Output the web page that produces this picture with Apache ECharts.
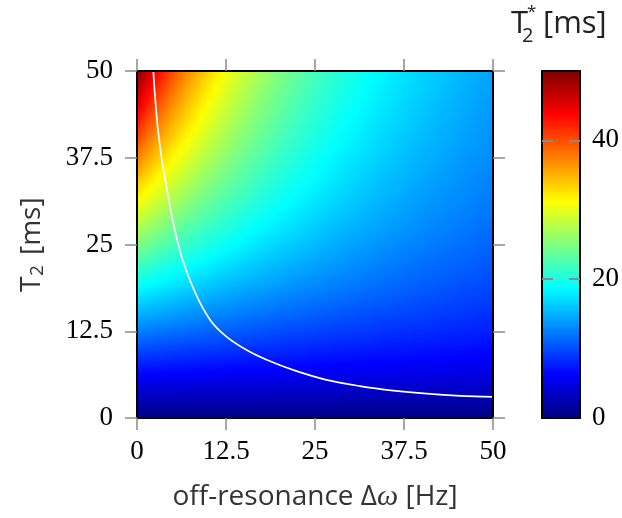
<!DOCTYPE html>
<html><head><meta charset="utf-8">
<script src="https://cdn.jsdelivr.net/npm/echarts@6/dist/echarts.min.js"></script>
<style>html,body{margin:0;padding:0;background:#fff}#c{width:622px;height:518px}</style>
</head><body><div id="c"></div>
<script>
// Grid nodes (off-resonance in Hz, T2 in ms)
const dOmega = [1,3,5,7,9,11,13,15,17,19,21,23,25,27,29,31,33,35,37,39,41,43,45,47,49];
const t2 = [1,3,5,7,9,11,13,15,17,19,21,23,25,27,29,31,33,35,37,39,41,43,45,47,49];
// T2* values [ms]; one row per T2, columns follow dOmega
const t2star = [
 [1.0,1.0,1.0,1.0,1.0,1.0,1.0,1.0,1.0,1.0,1.0,1.0,1.0,1.0,1.0,1.0,1.0,1.0,1.0,1.0,1.0,1.0,1.0,1.0,1.0],
 [3.0,3.0,3.0,2.9,2.9,2.9,2.9,2.9,2.9,2.8,2.8,2.8,2.8,2.8,2.8,2.7,2.7,2.7,2.7,2.7,2.7,2.7,2.6,2.6,2.6],
 [5.0,4.9,4.9,4.8,4.8,4.7,4.7,4.7,4.6,4.6,4.5,4.5,4.4,4.4,4.4,4.3,4.3,4.3,4.2,4.2,4.1,4.1,4.1,4.0,4.0],
 [7.0,6.9,6.8,6.7,6.6,6.5,6.4,6.3,6.3,6.2,6.1,6.0,6.0,5.9,5.8,5.8,5.7,5.6,5.6,5.5,5.4,5.4,5.3,5.3,5.2],
 [8.9,8.8,8.6,8.5,8.3,8.2,8.1,7.9,7.8,7.7,7.6,7.5,7.3,7.2,7.1,7.0,6.9,6.8,6.8,6.7,6.6,6.5,6.4,6.3,6.2],
 [10.9,10.6,10.4,10.2,10.0,9.8,9.6,9.4,9.3,9.1,8.9,8.8,8.6,8.5,8.3,8.2,8.1,7.9,7.8,7.7,7.6,7.5,7.4,7.3,7.1],
 [12.8,12.5,12.2,11.9,11.6,11.4,11.1,10.9,10.6,10.4,10.2,10.0,9.8,9.6,9.4,9.3,9.1,8.9,8.8,8.6,8.5,8.3,8.2,8.1,7.9],
 [14.8,14.4,14.0,13.6,13.2,12.9,12.6,12.2,12.0,11.7,11.4,11.2,10.9,10.7,10.5,10.2,10.0,9.8,9.6,9.5,9.3,9.1,9.0,8.8,8.6],
 [16.7,16.2,15.7,15.2,14.7,14.3,13.9,13.5,13.2,12.8,12.5,12.2,11.9,11.7,11.4,11.1,10.9,10.7,10.4,10.2,10.0,9.8,9.6,9.4,9.3],
 [18.6,18.0,17.4,16.8,16.2,15.7,15.2,14.8,14.4,14.0,13.6,13.2,12.9,12.6,12.3,12.0,11.7,11.4,11.2,10.9,10.7,10.5,10.2,10.0,9.8],
 [20.6,19.8,19.0,18.3,17.7,17.1,16.5,16.0,15.5,15.0,14.6,14.2,13.8,13.4,13.1,12.7,12.4,12.1,11.8,11.5,11.3,11.0,10.8,10.6,10.3],
 [22.5,21.5,20.6,19.8,19.1,18.4,17.7,17.1,16.5,16.0,15.5,15.0,14.6,14.2,13.8,13.4,13.1,12.7,12.4,12.1,11.8,11.6,11.3,11.1,10.8],
 [24.4,23.3,22.2,21.3,20.4,19.6,18.9,18.2,17.5,16.9,16.4,15.9,15.4,14.9,14.5,14.1,13.7,13.3,13.0,12.7,12.3,12.0,11.8,11.5,11.2],
 [26.3,25.0,23.8,22.7,21.7,20.8,20.0,19.2,18.5,17.8,17.2,16.7,16.1,15.6,15.1,14.7,14.3,13.9,13.5,13.2,12.8,12.5,12.2,11.9,11.6],
 [28.2,26.7,25.3,24.1,23.0,22.0,21.1,20.2,19.4,18.7,18.0,17.4,16.8,16.3,15.8,15.3,14.8,14.4,14.0,13.6,13.2,12.9,12.6,12.3,12.0],
 [30.1,28.4,26.8,25.5,24.2,23.1,22.1,21.2,20.3,19.5,18.8,18.1,17.5,16.9,16.3,15.8,15.3,14.9,14.4,14.0,13.7,13.3,12.9,12.6,12.3],
 [31.9,30.0,28.3,26.8,25.4,24.2,23.1,22.1,21.1,20.3,19.5,18.8,18.1,17.5,16.9,16.3,15.8,15.3,14.9,14.4,14.0,13.6,13.3,12.9,12.6],
 [33.8,31.7,29.8,28.1,26.6,25.3,24.1,23.0,21.9,21.0,20.2,19.4,18.7,18.0,17.4,16.8,16.2,15.7,15.3,14.8,14.4,14.0,13.6,13.2,12.9],
 [35.7,33.3,31.2,29.4,27.8,26.3,25.0,23.8,22.7,21.7,20.8,20.0,19.2,18.5,17.8,17.2,16.7,16.1,15.6,15.1,14.7,14.3,13.9,13.5,13.2],
 [37.5,34.9,32.6,30.6,28.9,27.3,25.9,24.6,23.5,22.4,21.4,20.6,19.7,19.0,18.3,17.7,17.1,16.5,16.0,15.5,15.0,14.6,14.2,13.8,13.4],
 [39.4,36.5,34.0,31.9,29.9,28.3,26.7,25.4,24.2,23.0,22.0,21.1,20.2,19.5,18.7,18.1,17.4,16.8,16.3,15.8,15.3,14.8,14.4,14.0,13.6],
 [41.2,38.1,35.4,33.1,31.0,29.2,27.6,26.1,24.8,23.7,22.6,21.6,20.7,19.9,19.1,18.4,17.8,17.2,16.6,16.1,15.6,15.1,14.7,14.2,13.8],
 [43.1,39.6,36.7,34.2,32.0,30.1,28.4,26.9,25.5,24.3,23.1,22.1,21.2,20.3,19.5,18.8,18.1,17.5,16.9,16.3,15.8,15.3,14.9,14.4,14.0],
 [44.9,41.2,38.1,35.4,33.0,31.0,29.2,27.6,26.1,24.8,23.7,22.6,21.6,20.7,19.9,19.1,18.4,17.8,17.2,16.6,16.1,15.6,15.1,14.6,14.2],
 [46.7,42.7,39.4,36.5,34.0,31.8,29.9,28.2,26.7,25.4,24.1,23.0,22.0,21.1,20.2,19.5,18.7,18.0,17.4,16.8,16.3,15.8,15.3,14.8,14.4]
];
// Values along the plot edges
const edgeAtZeroHz = [1,3,5,7,9,11,13,15,17,19,21,23,25,27,29,31,33,35,37,39,41,43,45,47,49];
const edgeAt50Hz = [0.95,2.61,4.0,5.19,6.21,7.10,7.88,8.57,9.19,9.74,10.24,10.70,11.11,11.49,11.84,12.16,12.45,12.73,12.98,13.22,13.44,13.65,13.85,14.03,14.2];
const edgeAtT2of50 = [50,47.6,43.5,40.0,37.0,34.5,32.3,30.3,28.6,27.0,25.6,24.4,23.3,22.2,21.3,20.4,19.6,18.9,18.2,17.5,16.9,16.4,15.9,15.4,14.9,14.5,14.3];
const edgeAtT2of0 = [0,0,0,0,0,0,0,0,0,0,0,0,0,0,0,0,0,0,0,0,0,0,0,0,0,0,0];
const axisMin = 0, axisMax = 50;
// White curve
const curveDOmega = [2.3,2.5,2.9,3.5,4.3,5.2,6.4,8.2,10.3,12.6,15.4,18.2,22.0,26.6,31.3,36.0,40.7,45.4,50.0];
const curveT2     = [49.9,46.8,42.0,37.2,32.4,27.6,22.8,18.0,14.1,11.7,9.8,8.4,6.9,5.5,4.6,3.95,3.5,3.2,3.05];
// Tick values
const axisTicks = [0, 12.5, 25, 37.5, 50];
const colorbarTicks = [0, 20, 40];
const jet = ['#000080','#0000ff','#0080ff','#00ffff','#80ff80','#ffff00','#ff8000','#ff0000','#800000'];

// full node table (rows: T2 from 0 to 50, columns: dOmega from 0 to 50)
const xNodes = [axisMin].concat(dOmega, [axisMax]);
const yNodes = [axisMin].concat(t2, [axisMax]);
const table = [edgeAtT2of0];
t2star.forEach((row, i) => table.push([edgeAtZeroHz[i]].concat(row, [edgeAt50Hz[i]])));
table.push(edgeAtT2of50);

const jetRGB = jet.map(h => [1,3,5].map(p => parseInt(h.substr(p,2),16)));
function colorOf(v) {
  const t = Math.max(0, Math.min(1, v / axisMax)) * (jetRGB.length - 1);
  const i = Math.min(Math.floor(t), jetRGB.length - 2);
  const f = t - i, a = jetRGB[i], b = jetRGB[i+1];
  return 'rgb(' + [0,1,2].map(k => Math.round(a[k] + (b[k]-a[k]) * f)).join(',') + ')';
}

// interpolated shading between nodes (like pgfplots shader=interp)
function renderBand(params, api) {
  const k = params.dataIndex;
  const x0 = api.coord([xNodes[0], yNodes[0]])[0];
  const x1 = api.coord([xNodes[xNodes.length-1], yNodes[0]])[0];
  const offs = xNodes.map(x => (api.coord([x, yNodes[0]])[0] - x0) / (x1 - x0));
  const yBot = api.coord([xNodes[0], yNodes[k]])[1];
  const yTop = api.coord([xNodes[0], yNodes[k+1]])[1];
  const n = Math.max(1, Math.round((yBot - yTop) / 2));
  const lo = table[k], hi = table[k+1];
  const children = [];
  for (let s = 0; s < n; s++) {
    const ya = yTop + (yBot - yTop) * s / n;
    const yb = yTop + (yBot - yTop) * (s + 1) / n;
    const f = 1 - (s + 0.5) / n;
    const vals = lo.map((v, c) => v + (hi[c] - v) * f);
    const stops = [];
    for (let c = 0; c < vals.length; c++) {
      stops.push({offset: offs[c], color: colorOf(vals[c])});
      if (c < vals.length - 1) stops.push({offset: (offs[c] + offs[c+1]) / 2, color: colorOf((vals[c] + vals[c+1]) / 2)});
    }
    children.push({type:'rect', shape:{x:x0, y:ya, width:x1 - x0, height:yb - ya + 0.8},
      style:{fill:{type:'linear', x:0, y:0, x2:1, y2:0, colorStops:stops}}});
  }
  return {type:'group', children};
}

const serif = 'Liberation Serif';
const sans = 'Open Sans';
const tickStyle = {show:true, inside:false, length:12, lineStyle:{color:'#8a8a8a', width:1.5}};
const frameLine = {show:true, onZero:false, lineStyle:{color:'#000', width:2}};
const tickLabel = {fontFamily:serif, fontSize:27, color:'#000',
  formatter: v => axisTicks.indexOf(v) >= 0 ? String(v) : ''};
function valAxis(grid, pos, labelMargin) {
  return {gridIndex:grid, type:'value', min:axisMin, max:axisMax, interval:12.5, position:pos, z:5,
    axisLine:frameLine, axisTick:tickStyle, splitLine:{show:false},
    axisLabel: labelMargin ? Object.assign({margin:labelMargin}, tickLabel) : {show:false}};
}
const cbTick = {show:true, inside:true, length:11, lineStyle:{color:'#8a8a8a', width:2}};
const cbLabel = {fontFamily:serif, fontSize:27, color:'#000', margin:12,
  formatter: v => colorbarTicks.indexOf(v) >= 0 ? String(v) : ''};

const chart = echarts.init(document.getElementById('c'), null, {renderer:'canvas'});
chart.setOption({
  animation:false,
  backgroundColor:'#fff',
  grid:[
    {left:137, top:71, width:356, height:347},
    {left:542, top:71, width:38, height:347}
  ],
  xAxis:[
    valAxis(0,'bottom',20),
    valAxis(0,'top',0),
    {gridIndex:1, type:'value', min:0, max:1, position:'bottom', z:7, axisLine:frameLine, axisTick:{show:false}, axisLabel:{show:false}, splitLine:{show:false}},
    {gridIndex:1, type:'value', min:0, max:1, position:'top', z:7, axisLine:frameLine, axisTick:{show:false}, axisLabel:{show:false}, splitLine:{show:false}}
  ],
  yAxis:[
    valAxis(0,'left',24),
    valAxis(0,'right',0),
    {gridIndex:1, type:'value', min:axisMin, max:axisMax, interval:20, position:'left', z:5, axisLine:frameLine, axisTick:cbTick, axisLabel:{show:false}, splitLine:{show:false}},
    {gridIndex:1, type:'value', min:axisMin, max:axisMax, interval:20, position:'right', z:5, axisLine:frameLine, axisTick:cbTick, axisLabel:cbLabel, splitLine:{show:false}}
  ],
  visualMap:{
    type:'continuous', min:axisMin, max:axisMax, seriesIndex:[],
    calculable:false, hoverLink:false, orient:'vertical',
    left:542, top:71, itemWidth:38, itemHeight:347, padding:0,
    inRange:{color:jet}, z:4
  },
  series:[
    {type:'custom', xAxisIndex:0, yAxisIndex:0, renderItem:renderBand, clip:true, silent:true, z:2,
     data: yNodes.slice(0, -1).map(y => [xNodes[0], y])},
    {type:'line', xAxisIndex:0, yAxisIndex:0, data:curveDOmega.map((x,i)=>[x, curveT2[i]]),
     smooth:0.35, symbol:'none', silent:true, z:3, clip:true,
     lineStyle:{color:'#fff', width:1.7}}
  ],
  graphic:[
    {type:'text', x:315, y:497, z:10, style:{
      text:'{n|off-resonance Δ}{i|ω}{n| [Hz]}', align:'center', verticalAlign:'middle',
      rich:{n:{fontFamily:sans, fontSize:28, fill:'#333'}, i:{fontFamily:serif, fontStyle:'italic', fontSize:30, fill:'#333'}}}},
    // y axis title (rotated)
    {type:'text', x:32, y:292, rotation:Math.PI/2, z:10, style:{text:'T', fontFamily:sans, fontSize:28, fill:'#333', align:'left', verticalAlign:'middle'}},
    {type:'text', x:38, y:276, rotation:Math.PI/2, z:10, style:{text:'2', fontFamily:sans, fontSize:19, fill:'#333', align:'left', verticalAlign:'middle'}},
    {type:'text', x:32, y:255, rotation:Math.PI/2, z:10, style:{text:'[ms]', fontFamily:sans, fontSize:28, fill:'#333', align:'left', verticalAlign:'middle'}},
    // colorbar title
    {type:'text', x:511, y:24, z:10, style:{text:'T', fontFamily:sans, fontSize:31, fill:'#222', align:'left', verticalAlign:'middle'}},
    {type:'text', x:522, y:36, z:10, style:{text:'2', fontFamily:sans, fontSize:20, fill:'#222', align:'left', verticalAlign:'middle'}},
    {type:'text', x:527, y:12, z:10, style:{text:'*', fontFamily:sans, fontSize:17, fill:'#222', align:'left', verticalAlign:'middle'}},
    {type:'text', x:543, y:24, z:10, style:{text:'[ms]', fontFamily:sans, fontSize:31, fill:'#222', align:'left', verticalAlign:'middle'}}
  ]
});
</script>
</body></html>
